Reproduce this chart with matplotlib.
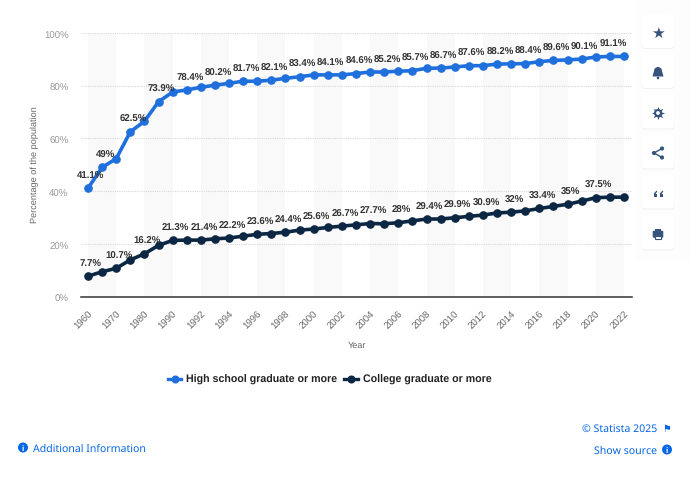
import matplotlib
matplotlib.use("Agg")
import matplotlib.pyplot as plt
from matplotlib.patches import Circle, FancyBboxPatch, Polygon, Rectangle
from matplotlib.transforms import ScaledTranslation

plt.rcParams["text.hinting"] = "no_hinting"

W, H = 690, 485

years = ["1960", "1965", "1970", "1975", "1980", "1985", "1990"] + [str(y) for y in range(1991, 2023)]
high_school = [41.1, 49, 52.3, 62.5, 66.5, 73.9, 77.6, 78.4, 79.4, 80.2, 80.9, 81.7, 81.7, 82.1, 82.8,
               83.4, 84.1, 84.1, 84.1, 84.6, 85.2, 85.2, 85.5, 85.7, 86.6, 86.7, 87.1, 87.6, 87.6,
               88.2, 88.3, 88.4, 89.1, 89.6, 89.8, 90.1, 90.9, 91.1, 91.1]
college = [7.7, 9.4, 10.7, 13.9, 16.2, 19.4, 21.3, 21.4, 21.4, 21.9, 22.2, 22.9, 23.6, 23.9, 24.4,
           25.2, 25.6, 26.2, 26.7, 27.2, 27.7, 27.6, 28, 28.7, 29.4, 29.4, 29.9, 30.4, 30.9,
           31.7, 32, 32.5, 33.4, 34.2, 35, 36.2, 37.5, 37.7, 37.7]
high_labelled = ["1960", "1965", "1975", "1985"] + [str(y) for y in range(1991, 2022, 2)]
college_labelled = ["1960", "1970", "1980", "1990"] + [str(y) for y in range(1992, 2021, 2)]
tick_years = ["1960", "1970", "1980", "1990"] + [str(y) for y in range(1992, 2023, 2)]
y_ticks = [0, 20, 40, 60, 80, 100]

BLUE = "#1f6fdc"
NAVY = "#0b2743"
LINK = "#0666e5"
BTN = "#37557c"


def fmt(v):
    return f"{v:g}%"


fig = plt.figure(figsize=(W / 100, H / 100), dpi=100, facecolor="white")

# page furniture, drawn in pixel coordinates
bg = fig.add_axes([0, 0, 1, 1], zorder=0)
bg.set_xlim(0, W)
bg.set_ylim(H, 0)
bg.axis("off")

# chart area: 100% at y=34, 0% at y=297.5, first point x=88, last point x=624
ax = fig.add_axes([81 / W, 1 - 297.5 / H, 551 / W, 263.5 / H], zorder=1)
ax.patch.set_alpha(0)
step = (624 - 88) / (len(years) - 1)
ax.set_xlim(-7 / step, len(years) - 1 + 8 / step)
ax.set_ylim(0, 100)

for i in range(0, len(years) - 1, 4):
    ax.axvspan(i, i + 2, color="#f9f9fa", lw=0, zorder=0)

ax.grid(axis="y", color="#d8d8d8", lw=0.8, ls=(0, (1, 1)), zorder=1)
ax.set_axisbelow(True)
for s in ["top", "right", "left"]:
    ax.spines[s].set_visible(False)
ax.spines["bottom"].set_color("#333333")
ax.spines["bottom"].set_linewidth(1.1)

x = list(range(len(years)))
ax.plot(x, high_school, color=BLUE, lw=2.6, marker="o", ms=5.2, clip_on=False, zorder=3,
        label="High school graduate or more")
ax.plot(x, college, color=NAVY, lw=2.6, marker="o", ms=5.2, clip_on=False, zorder=3,
        label="College graduate or more")

for series, labelled in [(high_school, high_labelled), (college, college_labelled)]:
    for yr in labelled:
        i = years.index(yr)
        ax.annotate(fmt(series[i]), (i, series[i]), xytext=(3, 13), textcoords="offset pixels",
                    ha="center", va="center", fontsize=6.9, fontweight="bold", color="#333333",
                    family="Liberation Sans", zorder=4)

ax.set_xticks([years.index(y) for y in tick_years])
ax.set_xticklabels(tick_years, rotation=45, ha="right", rotation_mode="anchor",
                   family="Liberation Sans", fontsize=6.9, color="#666666")
ax.set_yticks(y_ticks)
ax.set_yticklabels([f"{v}%" for v in y_ticks], family="Liberation Sans", fontsize=6.9, color="#999999")
ax.tick_params(axis="x", length=0, pad=9)
ax.tick_params(axis="y", length=0, pad=9)
down = ScaledTranslation(0, -1 / 100, fig.dpi_scale_trans)
for t in ax.get_yticklabels():
    t.set_transform(t.get_transform() + down)

ax.set_xlabel("Year", family="Liberation Sans", fontsize=6.6, color="#666666")
ax.xaxis.set_label_coords((357 - 81) / 551, -(346 - 297.5) / 263.5)
ax.xaxis.label.set_va("center")
ax.set_ylabel("Percentage of the population", family="Liberation Sans", fontsize=6.6, color="#666666")
ax.yaxis.set_label_coords((35 - 81) / 551, (297.5 - 165) / 263.5)
ax.yaxis.label.set_va("center")

# legend
bg.plot([168, 181], [380, 380], color=BLUE, lw=2.4)
bg.plot([174.5], [380], color=BLUE, marker="o", ms=4.8)
bg.text(186, 380, "High school graduate or more", family="Liberation Sans", fontsize=7.7,
        fontweight="bold", color="#222222", va="center")
bg.plot([344, 358], [380, 380], color=NAVY, lw=2.4)
bg.plot([351], [380], color=NAVY, marker="o", ms=4.8)
bg.text(363, 380, "College graduate or more", family="Liberation Sans", fontsize=7.7,
        fontweight="bold", color="#222222", va="center")

# footer links
bottom_font = "Noto Sans"
bg.text(33, 449, "Additional Information", family=bottom_font, fontsize=7.6, color=LINK, va="center")
bg.text(657, 429, "© Statista 2025", family=bottom_font, fontsize=7.6, color=LINK, va="center", ha="right")
bg.text(657, 451, "Show source", family=bottom_font, fontsize=7.6, color=LINK, va="center", ha="right")
bg.text(667, 429, "\u2691", family="DejaVu Sans", fontsize=7, color=LINK, va="center", ha="center")
for cx, cy in [(23, 448.5), (667, 450.5)]:
    bg.add_patch(Circle((cx, cy), 5, color=LINK, lw=0))
    bg.text(cx, cy, "i", family="Liberation Sans", fontsize=6, fontweight="bold", color="white",
            ha="center", va="center")

# side buttons
bg.add_patch(Rectangle((636, 0), 54, 262, color="#fdfdfd", lw=0, zorder=0))
for cy in [33.5, 73.5, 114, 154, 194, 235]:
    bg.add_patch(FancyBboxPatch((643, cy - 15), 30, 30, boxstyle="round,pad=1.5,rounding_size=4",
                                fc="#eef0f2", ec="none", zorder=1))
    bg.add_patch(FancyBboxPatch((643, cy - 16), 30, 30, boxstyle="round,pad=1.5,rounding_size=4",
                                fc="white", ec="none", zorder=1))

bg.text(658, 33.5, "\u2605", family="DejaVu Sans", fontsize=11, color=BTN, ha="center", va="center", zorder=2)
# bell
bg.add_patch(Circle((658, 72), 4, color=BTN, lw=0, zorder=2))
bg.add_patch(Polygon([(654, 72), (662, 72), (663.5, 77.5), (652.5, 77.5)], color=BTN, lw=0, zorder=2))
bg.add_patch(Circle((658, 79), 1.3, color=BTN, lw=0, zorder=2))
# gear
bg.plot([658], [114], marker=(8, 1, 0), ms=9.5, color=BTN, mew=0, zorder=2)
bg.add_patch(Circle((658, 114), 4, color=BTN, lw=0, zorder=2))
bg.add_patch(Circle((658, 114), 1.9, color="white", lw=0, zorder=3))
# share
bg.plot([662, 654, 662], [149.5, 154, 158.5], color=BTN, lw=1, zorder=2)
for sx, sy in [(662, 149.5), (654, 154), (662, 158.5)]:
    bg.add_patch(Circle((sx, sy), 2.1, color=BTN, lw=0, zorder=3))
# quote
for qx in [653.5, 659.5]:
    bg.add_patch(Rectangle((qx, 194.5), 3.8, 3.8, color=BTN, lw=0, zorder=2))
    bg.add_patch(Polygon([(qx, 195), (qx + 3, 191.5), (qx + 3.8, 192.5), (qx + 2, 195)], color=BTN, lw=0, zorder=2))
# printer
bg.add_patch(Rectangle((655, 229.5), 6, 3, color=BTN, lw=0, zorder=2))
bg.add_patch(FancyBboxPatch((653.5, 232.5), 9, 5.5, boxstyle="round,pad=0.8,rounding_size=1.2", color=BTN, lw=0, zorder=2))
bg.add_patch(Rectangle((655, 236.5), 6, 3.5, fc="white", ec=BTN, lw=0.8, zorder=3))

fig.savefig("out.png", dpi=100)
